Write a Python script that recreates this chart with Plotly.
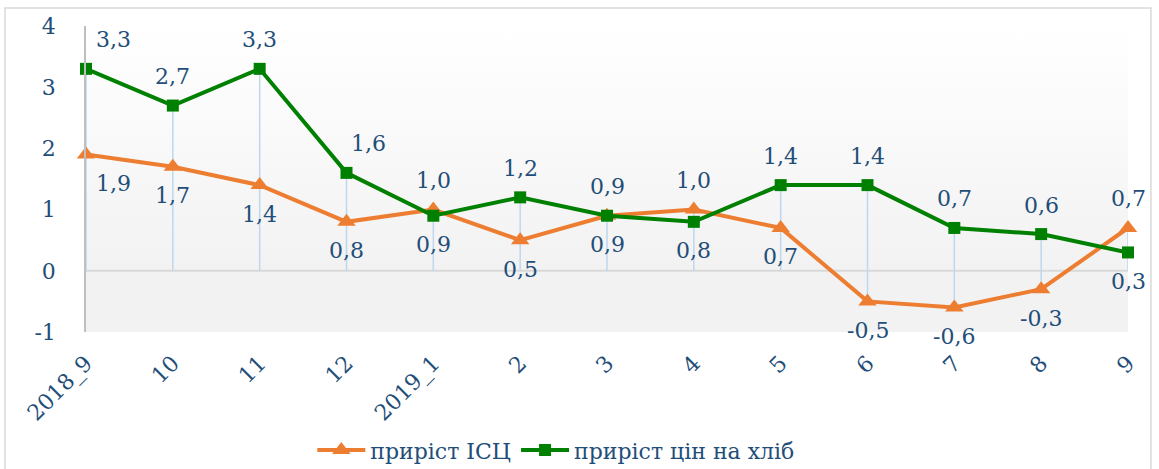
import plotly.graph_objects as go

categories = ["2018_9", "10", "11", "12", "2019_1", "2", "3", "4", "5", "6", "7", "8", "9"]
cpi_growth = [1.9, 1.7, 1.4, 0.8, 1.0, 0.5, 0.9, 1.0, 0.7, -0.5, -0.6, -0.3, 0.7]
bread_growth = [3.3, 2.7, 3.3, 1.6, 0.9, 1.2, 0.9, 0.8, 1.4, 1.4, 0.7, 0.6, 0.3]
y_ticks = [-1, 0, 1, 2, 3, 4]

name_cpi = "приріст ІСЦ"
name_bread = "приріст цін на хліб"

FONT = "DejaVu Serif"
FS = 22
TXT = "#1F4E79"
ORANGE = "#ED7D31"
GREEN = "#008000"

xs = list(range(len(categories)))

fig = go.Figure()

# plot-area gradient background
fig.add_trace(go.Scatter(
    x=[xs[0], xs[-1], xs[-1], xs[0], xs[0]],
    y=[y_ticks[0], y_ticks[0], y_ticks[-1], y_ticks[-1], y_ticks[0]],
    mode="lines", line=dict(width=0), fill="toself",
    fillgradient=dict(type="vertical", start=y_ticks[0], stop=y_ticks[-1],
                      colorscale=[[0, "#f2f2f2"], [0.2, "#f2f2f2"], [1, "#ffffff"]]),
    hoverinfo="skip", showlegend=False))

# category axis line at zero
fig.add_trace(go.Scatter(x=[xs[0], xs[-1]], y=[0, 0], mode="lines",
                         line=dict(color="#D9D9D9", width=2),
                         hoverinfo="skip", showlegend=False))

# drop lines
dx, dy = [], []
for i, x in enumerate(xs):
    hi = max(cpi_growth[i], bread_growth[i], 0)
    lo = min(cpi_growth[i], bread_growth[i], 0)
    dx += [x, x, None]
    dy += [hi, lo, None]
fig.add_trace(go.Scatter(x=dx, y=dy, mode="lines",
                         line=dict(color="#BDD7EE", width=1.5),
                         hoverinfo="skip", showlegend=False, cliponaxis=False))

fig.add_trace(go.Scatter(x=xs, y=cpi_growth, name=name_cpi, mode="lines+markers",
                         line=dict(color=ORANGE, width=4),
                         marker=dict(symbol="triangle-up", size=16, color=ORANGE),
                         cliponaxis=False))
fig.add_trace(go.Scatter(x=xs, y=bread_growth, name=name_bread, mode="lines+markers",
                         line=dict(color=GREEN, width=4),
                         marker=dict(symbol="square", size=12, color=GREEN),
                         cliponaxis=False))

# data labels
nudge = {0: 27}
nudge_bread = {3: 22}
OFF = 29
for i, x in enumerate(xs):
    c, b = cpi_growth[i], bread_growth[i]
    c_up = c > b
    for v, up, extra in ((c, c_up, 0), (b, not c_up, nudge_bread.get(i, 0))):
        fig.add_annotation(x=x, y=v, text=f"{v:.1f}".replace(".", ","),
                           showarrow=False, xshift=nudge.get(i, 0) + extra,
                           yshift=OFF if up else -OFF,
                           font=dict(family=FONT, size=FS, color=TXT))

# outer border
fig.add_shape(type="rect", xref="paper", yref="paper",
              x0=-0.0777, x1=1.022, y0=-0.45, y1=1.0588,
              line=dict(color="#D9D9D9", width=1.5), layer="below")

fig.update_layout(
    width=1159, height=469,
    margin=dict(l=86, r=31, t=26, b=137, autoexpand=False),
    paper_bgcolor="white", plot_bgcolor="white",
    font=dict(family=FONT, size=FS, color=TXT),
    showlegend=True,
    legend=dict(orientation="h", xref="container", yref="container",
                x=0.48, xanchor="center", y=0.04, yanchor="middle",
                font=dict(family=FONT, size=FS, color=TXT), itemwidth=48,
                bgcolor="rgba(0,0,0,0)"),
    xaxis=dict(tickvals=xs, ticktext=categories, range=[xs[0], xs[-1]],
               tickangle=-45, showgrid=False, zeroline=False, showline=False,
               ticks="", ticklabelstandoff=13, automargin=False,
               tickfont=dict(family=FONT, size=FS, color=TXT)),
    yaxis=dict(range=[y_ticks[0], y_ticks[-1]], tickvals=y_ticks,
               ticktext=[str(t) for t in y_ticks], showgrid=False,
               zeroline=False,
               showline=True, linecolor="#BFBFBF", linewidth=1.5,
               ticks="", ticklabelstandoff=24, automargin=False,
               tickfont=dict(family=FONT, size=FS, color=TXT)),
)

fig.write_html("out.html", config={"displayModeBar": False},
               post_script="document.body.style.margin='0';document.body.style.overflow='hidden';")
